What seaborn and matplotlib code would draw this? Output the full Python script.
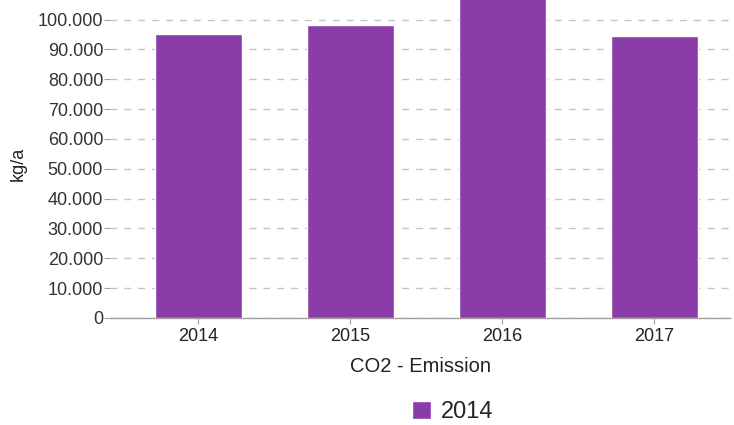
import numpy as np
import matplotlib
matplotlib.use("Agg")
import matplotlib.pyplot as plt
import matplotlib.ticker as mticker
import pandas as pd
import seaborn as sns

# data
years = ["2014", "2015", "2016", "2017"]
emission = [95300, 98100, 108000, 94600]
legend_label = "2014"
y_ticks = [0, 10000, 20000, 30000, 40000, 50000, 60000, 70000, 80000, 90000, 100000]

df = pd.DataFrame({"year": years, "kg_a": emission})

sns.set_style("white")
plt.rcParams["font.family"] = ["Liberation Sans", "DejaVu Sans"]

fig = plt.figure(figsize=(7.34, 4.25), dpi=100)
# plot area runs past the top edge like the cropped original
ax = fig.add_axes([0.150, 0.252, 0.845, 0.772])

bar_color = "#8a3ca9"
sns.barplot(data=df, x="year", y="kg_a", color=bar_color, width=0.57,
            saturation=1, ax=ax, label=legend_label, zorder=3)
if ax.get_legend() is not None:
    ax.get_legend().remove()

ax.set_ylim(0, 110000)
ax.set_xlim(-0.58, 3.5)
ax.yaxis.set_major_locator(mticker.FixedLocator(y_ticks))
ax.yaxis.set_major_formatter(mticker.FuncFormatter(
    lambda v, p: "0" if v == 0 else f"{int(v):,}".replace(",", ".")))

ax.grid(axis="y", color="#c4c4c4", linestyle=(0, (5, 5)), linewidth=1, zorder=0)
ax.grid(axis="x", visible=False)
for s in ["top", "right", "left"]:
    ax.spines[s].set_visible(False)
ax.spines["bottom"].set_color("#a0a0a0")
ax.spines["bottom"].set_linewidth(1)

ax.tick_params(axis="y", length=4, color="#a0a0a0", labelsize=13,
               labelcolor="#333333", pad=1, left=True)
ax.tick_params(axis="x", length=4, color="#a0a0a0", labelsize=13,
               labelcolor="#222222", pad=3, bottom=True)

ax.set_xlabel("CO2 - Emission", fontsize=14.5, color="#222222", labelpad=9)
ax.set_ylabel("kg/a", fontsize=13, color="#222222")
ax.yaxis.set_label_coords(-0.134, 0.47)

handles, labels = ax.get_legend_handles_labels()
fig.legend(handles[:1], [legend_label], loc="center", bbox_to_anchor=(0.617, 0.031),
           frameon=False, fontsize=17, handlelength=0.8, handleheight=0.8,
           handletextpad=0.4)

plt.savefig("out.png", dpi=100)
